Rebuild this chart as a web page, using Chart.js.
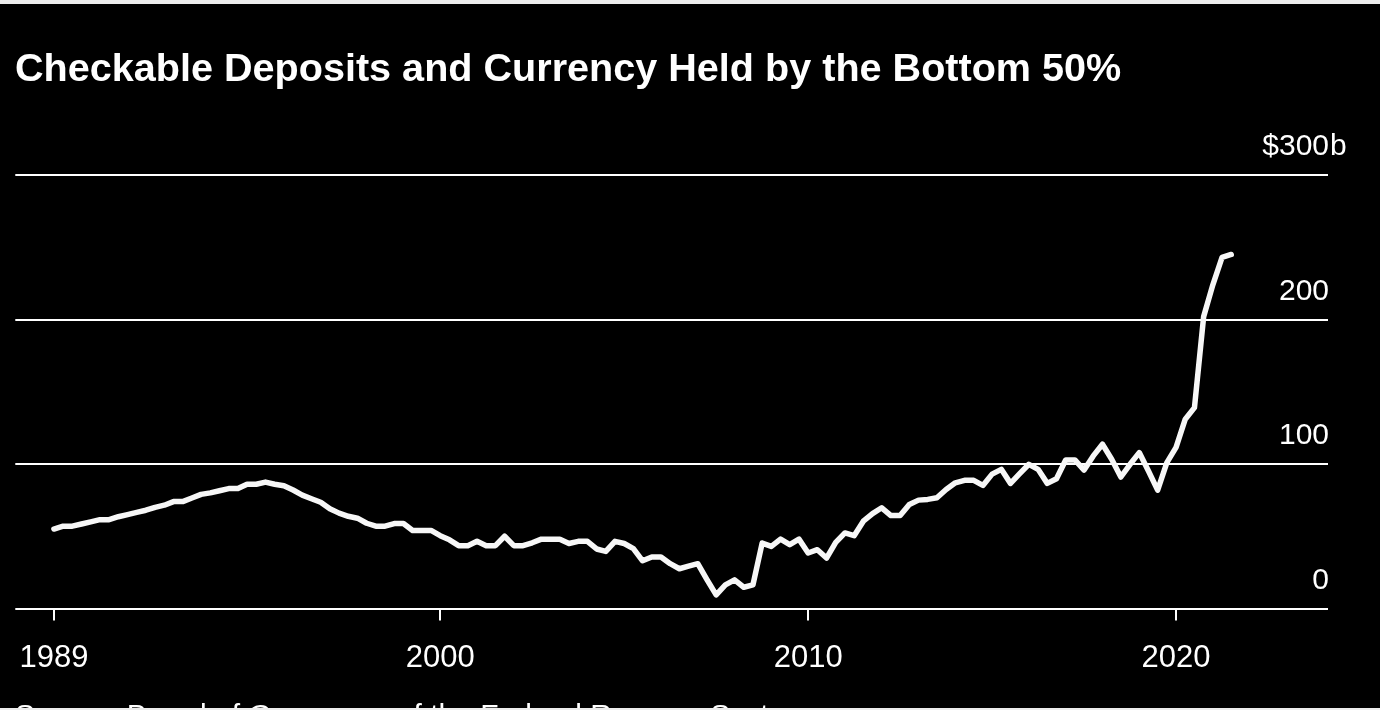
<!DOCTYPE html>
<html>
<head>
<meta charset="utf-8">
<script src="https://cdn.jsdelivr.net/npm/chart.js@4.4.0/dist/chart.umd.min.js"></script>
<style>
  html, body { margin: 0; padding: 0; background: #000; }
  #wrap { position: relative; width: 1380px; height: 710px; overflow: hidden; }
  .strip { position: absolute; left: 0; width: 1380px; background: #ededed; }
</style>
</head>
<body>
<div id="wrap">
  <canvas id="chart" width="1380" height="710"></canvas>
  <div class="strip" style="top:0;height:4px"></div>
  <div class="strip" style="bottom:0;height:2px"></div>
</div>
<script>
const chartTitle = 'Checkable Deposits and Currency Held by the Bottom 50%';
const sourceText = 'Source: Board of Governors of the Federal Reserve System';

// quarterly, starting 1989 Q3, billions of dollars
const firstQuarter = 1989.5;
const deposits = [
    55, 57, 57, 58.5, 60, 61.5, 61.5, 63.5, 65, 66.5,
    68, 70, 71.5, 74, 74, 76.5, 79, 80, 81.5, 83,
    83, 86, 86, 87.5, 86, 85, 82, 78.5, 76, 73.5,
    69, 66, 63.8, 62.5, 59, 57, 57, 58.8, 58.8, 54,
    54, 54, 50.4, 47.5, 43.5, 43.5, 46.5, 43.5, 43.5, 50,
    43.5, 43.5, 45.5, 48, 48, 48, 45, 46.5, 46.5, 41.2,
    39.5, 46.5, 45, 41.5, 33, 35.6, 35.6, 31, 27.5, 29.3,
    31, 20, 9.4, 16.3, 19.8, 14.7, 16.3, 45.3, 43, 48,
    44.2, 48, 38.4, 40.7, 34.9, 45.8, 52.3, 50.4, 60.4, 65.7,
    69.7, 64.3, 64.3, 72, 75, 75.5, 76.6, 82.4, 87, 88.7,
    88.7, 85.2, 93, 96.3, 86.6, 93.3, 99.8, 96.3, 86.6, 89.8,
    102.8, 102.8, 95.8, 105.6, 113.7, 103.3, 91, 99.8, 107.9, 95.1,
    81.9, 101, 111.5, 131, 139, 202, 224, 243, 245
];

const xTickValues = [1989.5, 2000, 2010, 2020];
const xTickLabels = ['1989', '2000', '2010', '2020'];
const yTickValues = [0, 100, 200, 300];
const yTickLabels = ['0', '100', '200', '$300'];
const yUnit = 'b';

const FONT = "'Liberation Sans', Arial, sans-serif";

const points = deposits.map((v, i) => ({ x: firstQuarter + i / 4, y: v }));

const bloombergPlugin = {
    id: 'bloomberg',
    beforeDraw(chart) {
        const ctx = chart.ctx;
        ctx.save();
        ctx.fillStyle = '#000';
        ctx.fillRect(0, 0, chart.width, chart.height);
        ctx.restore();
    },
    afterDraw(chart) {
        const ctx = chart.ctx;
        const yScale = chart.scales.y;
        const right = chart.chartArea.right + 1;
        ctx.save();
        ctx.fillStyle = '#fff';
        ctx.font = '30px ' + FONT;
        ctx.textBaseline = 'alphabetic';
        yTickValues.forEach((v, i) => {
            const y = yScale.getPixelForValue(v) - 20;
            ctx.textAlign = 'right';
            ctx.fillText(yTickLabels[i], right, y);
            if (i === yTickValues.length - 1) {
                ctx.textAlign = 'left';
                ctx.fillText(yUnit, right + 1, y);
            }
        });
        ctx.textAlign = 'left';
        ctx.fillText(sourceText, 15, 725);
        ctx.restore();
    }
};

const ctx = document.getElementById('chart').getContext('2d');
new Chart(ctx, {
    type: 'line',
    data: {
        datasets: [{
            data: points,
            borderColor: '#f7f7f7',
            borderWidth: 5.5,
            borderCapStyle: 'round',
            borderJoinStyle: 'round',
            pointRadius: 0,
            tension: 0,
            fill: false
        }]
    },
    options: {
        responsive: false,
        animation: false,
        devicePixelRatio: 1,
        layout: { padding: { left: 15, right: 52, top: 0, bottom: 0 } },
        plugins: {
            legend: { display: false },
            tooltip: { enabled: false },
            title: {
                display: true,
                text: chartTitle,
                align: 'start',
                color: '#fff',
                font: { family: FONT, weight: 'bold', size: 39.6, lineHeight: 1.2 },
                padding: { top: 46, bottom: 81.5 }
            }
        },
        scales: {
            x: {
                type: 'linear',
                position: 'bottom',
                min: 1988.45,
                max: 2024.13,
                afterBuildTicks: (scale) => {
                    scale.ticks = xTickValues.map(v => ({ value: v }));
                },
                afterFit: (scale) => { scale.height = 101.5; },
                ticks: {
                    callback: (value, index) => xTickLabels[index],
                    color: '#fff',
                    font: { family: FONT, size: 31 },
                    padding: 19,
                    maxRotation: 0,
                    autoSkip: false
                },
                grid: {
                    drawOnChartArea: false,
                    drawTicks: true,
                    tickLength: 12,
                    color: '#fff',
                    lineWidth: 2
                },
                border: { display: false }
            },
            y: {
                position: 'right',
                min: 0,
                max: 300,
                afterBuildTicks: (scale) => {
                    scale.ticks = yTickValues.map(v => ({ value: v }));
                },
                afterFit: (scale) => { scale.width = 0; },
                ticks: { display: false },
                grid: {
                    drawTicks: false,
                    color: '#fff',
                    lineWidth: 2
                },
                border: { display: false }
            }
        }
    },
    plugins: [bloombergPlugin]
});
</script>
</body>
</html>
